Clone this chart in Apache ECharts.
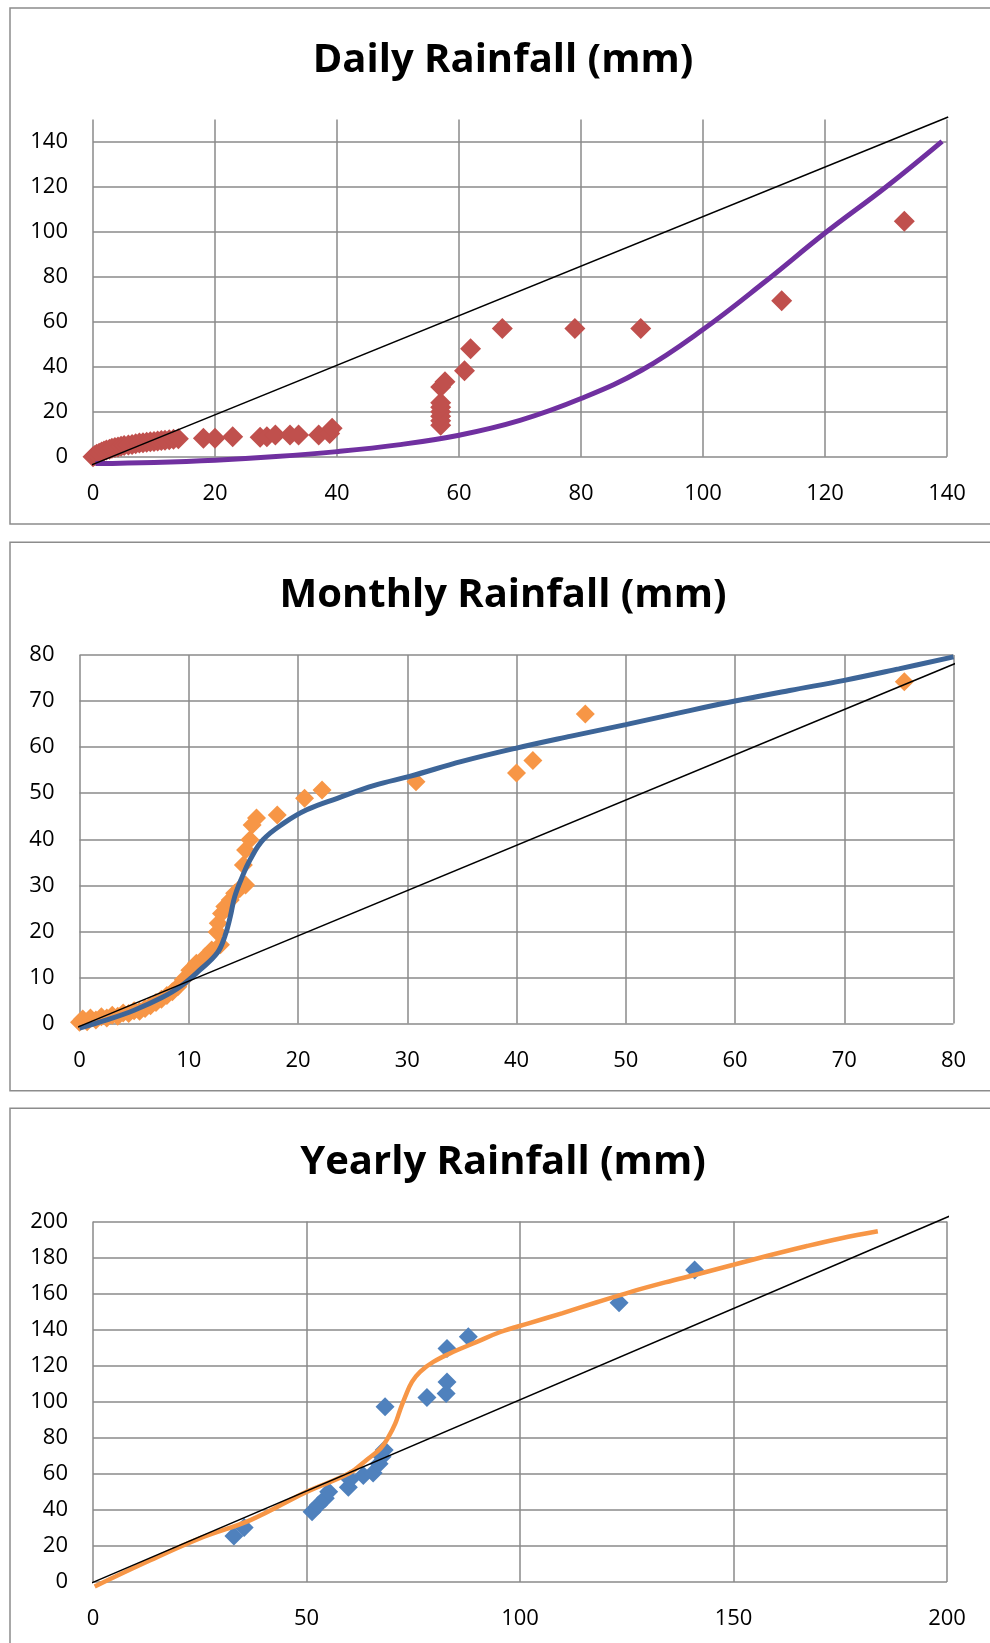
<!DOCTYPE html>
<html>
<head>
<meta charset="utf-8">
<title>Rainfall</title>
<script src="https://cdn.jsdelivr.net/npm/echarts@6/dist/echarts.min.js"></script>
<style>
  html, body { margin: 0; padding: 0; background: #fff; overflow: hidden; }
  #main { width: 990px; height: 1643px; }
</style>
</head>
<body>
<div id="main"></div>
<script>
// ---------- Daily ----------
const dailyTitle = "Daily Rainfall (mm)";
const dailyXTicks = [0, 20, 40, 60, 80, 100, 120, 140];
const dailyYTicks = [0, 20, 40, 60, 80, 100, 120, 140];
const dailyYMax = 150;
const dailyPoints = [
  [0, 0], [0.3, 0.6], [0.6, 1.1], [1, 1.6], [1.4, 2.1], [1.8, 2.6], [2.2, 3], [2.7, 3.4],
  [3.1, 3.8], [3.6, 4.1], [4.1, 4.4], [4.6, 4.7], [5.1, 5], [5.8, 5.2], [6.4, 5.5], [7, 5.8],
  [7.6, 6.1], [8.2, 6.3], [8.8, 6.5], [9.4, 6.7], [10, 6.8], [10.6, 7], [11.2, 7.2], [11.8, 7.4],
  [12.5, 7.6], [13.2, 7.8], [14, 8],
  [18.1, 8.2], [20, 8.2], [22.9, 8.9], [27.4, 8.7], [28.5, 8.9], [29.9, 9.7], [32.3, 9.7],
  [33.7, 9.7], [37, 9.7], [38.8, 10.4], [39.2, 12.7],
  [57, 14], [57, 16], [57, 18], [57, 20], [57, 22], [57, 24], [57, 31], [57.7, 33.4],
  [60.9, 38.3], [61.9, 48.1], [67.1, 57.1], [79, 57.1], [89.8, 57.1], [112.9, 69.4], [133, 104.7]
];
const dailyCurve = [
  [0.4, -3], [10, -2.5], [20, -1.5], [30, 0.1], [40, 2.3], [50, 5.3], [60, 9.6], [70, 16.2],
  [80, 25.9], [90, 38.6], [100, 56.6], [110, 77.5], [120, 99.5], [130, 120], [139.2, 140.3]
];
const dailyRefLine = [[-1.6, -5.1], [140.2, 151.1]];

// ---------- Monthly ----------
const monthlyTitle = "Monthly Rainfall (mm)";
const monthlyXTicks = [0, 10, 20, 30, 40, 50, 60, 70, 80];
const monthlyYTicks = [0, 10, 20, 30, 40, 50, 60, 70, 80];
const monthlyPoints = [
  [0, 0.3], [0.3, 1], [0.7, 0.4], [1, 1.2], [1.5, 0.8], [2, 1.5], [2.5, 1.2], [3, 1.8],
  [3.5, 1.6], [4, 2.3], [4.5, 2.2], [5, 2.8], [5.5, 2.7], [6, 3.3], [6.5, 3.9], [7, 4.6],
  [7.5, 5.3], [8, 6.1], [8.5, 6.9], [9, 8], [9.5, 9.5], [10.1, 11.6], [10.7, 13.1], [11.5, 14.5],
  [12.1, 16], [12.9, 17.1], [12.6, 19.9], [12.7, 21.8], [13, 23.9], [13.3, 25.4], [13.8, 26.8],
  [14.2, 28.3], [14.7, 29.4], [15.2, 30.1], [15, 34.4], [15.2, 37.7], [15.6, 39.9], [15.8, 43.1],
  [16.2, 44.6], [18.1, 45.3], [20.6, 48.9], [22.2, 50.7], [30.8, 52.5], [40, 54.4], [41.5, 57.1],
  [46.3, 67.2], [75.5, 74.2]
];
const monthlyCurve = [
  [0, -1], [2.5, 0.8], [5, 2.9], [7.5, 5.6], [9.2, 8], [11, 11.6], [12.6, 15.3], [13.3, 18.9],
  [13.8, 23.2], [14.2, 27.5], [14.9, 31.9], [15.6, 35.5], [16.8, 39.9], [18.7, 43.5],
  [20.8, 46.4], [23.6, 48.9], [27, 51.7], [30.3, 53.7], [35, 56.9], [40, 59.8], [45, 62.4],
  [50, 64.9], [55, 67.5], [60, 70], [65, 72.3], [70, 74.5], [75, 77], [80, 79.6]
];
const monthlyRefLine = [[-0.4, -1], [80.3, 78.3]];

// ---------- Yearly ----------
const yearlyTitle = "Yearly Rainfall (mm)";
const yearlyXTicks = [0, 50, 100, 150, 200];
const yearlyYTicks = [0, 20, 40, 60, 80, 100, 120, 140, 160, 180, 200];
const yearlyPoints = [
  [33, 25.5], [35.4, 30.2], [51.3, 39], [52.8, 42.7], [54.4, 46.4], [55.2, 50.1], [59.8, 52.5],
  [60.2, 56.8], [63.3, 59.1], [65.6, 60.5], [67, 65.6], [67.7, 69.5], [68.2, 73.3], [68.4, 97.2],
  [78.2, 102.4], [82.7, 104.6], [82.9, 111], [82.9, 129.5], [87.9, 136], [123.2, 154.9], [140.9, 173.1]
];
const yearlyCurve = [
  [0.4, -2.5], [12, 10.5], [25, 24.2], [37, 34.5], [50, 50], [60, 60.3], [64, 67.6], [67.3, 74],
  [69.2, 80.5], [70.8, 88], [71.9, 95.3], [73.1, 102.7], [74.7, 111], [76.6, 116.6], [79.7, 122.1],
  [84.4, 127.7], [89.9, 133.2], [95.4, 138.7], [102, 143.5], [110, 149.2], [118, 155.2],
  [126, 161], [134, 166.2], [142, 171], [150, 176], [158, 181], [167, 186.3], [175, 190.6],
  [183.8, 194.6]
];
const yearlyRefLine = [[-0.3, -0.5], [200.6, 203]];

const labelFont = { color: "#000", fontSize: 22, fontFamily: "Open Sans" };
const gridLine = { color: "#8a8a8a", width: 1.5 };

function valueAxis(gridIndex, ticks, max, isY, hideMax) {
  return {
    type: "value",
    gridIndex: gridIndex,
    min: ticks[0],
    max: max !== undefined ? max : ticks[ticks.length - 1],
    interval: ticks[1] - ticks[0],
    axisLine: { show: false },
    axisTick: { show: false },
    axisLabel: Object.assign({
      margin: isY ? 25 : 26,
      showMinLabel: true,
      showMaxLabel: !hideMax
    }, labelFont),
    splitLine: { show: true, showMinLine: true, showMaxLine: !hideMax, lineStyle: gridLine }
  };
}

function scatter(idx, data, color, size) {
  return {
    type: "scatter", xAxisIndex: idx, yAxisIndex: idx, data: data,
    symbol: "diamond", symbolSize: size, itemStyle: { color: color, opacity: 1 }, z: 2
  };
}
function curve(idx, data, color, width) {
  return {
    type: "line", xAxisIndex: idx, yAxisIndex: idx, data: data, smooth: 0.4,
    showSymbol: false, clip: false,
    lineStyle: { color: color, width: width }, z: 3
  };
}
function refLine(idx, data) {
  return {
    type: "line", xAxisIndex: idx, yAxisIndex: idx, data: data, showSymbol: false,
    clip: false, lineStyle: { color: "#000", width: 1.5 }, z: 4
  };
}
function box(y, h) {
  return { type: "rect", silent: true, shape: { x: 10, y: y, width: 1000, height: h },
    style: { fill: null, stroke: "#8c8c8c", lineWidth: 1.5 } };
}
function heading(text, y) {
  return { type: "text", silent: true, x: 503, y: y,
    style: { text: text, font: 'bold 40px "Open Sans"', fill: "#000",
      align: "center", verticalAlign: "middle", textAlign: "center", textVerticalAlign: "middle" } };
}

let myChart = echarts.init(document.getElementById("main"));
let option = {
  animation: false,
  graphic: [
    box(8, 516), box(542.3, 548.4), box(1108.3, 600),
    heading(dailyTitle, 61), heading(monthlyTitle, 596), heading(yearlyTitle, 1163)
  ],
  grid: [
    { left: 93, top: 119.5, width: 854, height: 337.3 },
    { left: 79.5, top: 655, width: 874, height: 368.6 },
    { left: 93, top: 1221.5, width: 854, height: 360.5 }
  ],
  xAxis: [
    valueAxis(0, dailyXTicks, undefined, false),
    valueAxis(1, monthlyXTicks, undefined, false),
    valueAxis(2, yearlyXTicks, undefined, false)
  ],
  yAxis: [
    valueAxis(0, dailyYTicks, dailyYMax, true, true),
    valueAxis(1, monthlyYTicks, undefined, true),
    valueAxis(2, yearlyYTicks, undefined, true)
  ],
  series: [
    scatter(0, dailyPoints, "#C0504D", 21),
    curve(0, dailyCurve, "#7030A0", 5),
    refLine(0, dailyRefLine),
    scatter(1, monthlyPoints, "#F79646", 19),
    curve(1, monthlyCurve, "#3D6598", 5),
    refLine(1, monthlyRefLine),
    scatter(2, yearlyPoints, "#4F81BD", 19),
    curve(2, yearlyCurve, "#F79646", 4.5),
    refLine(2, yearlyRefLine)
  ]
};
myChart.setOption(option);
</script>
</body>
</html>
